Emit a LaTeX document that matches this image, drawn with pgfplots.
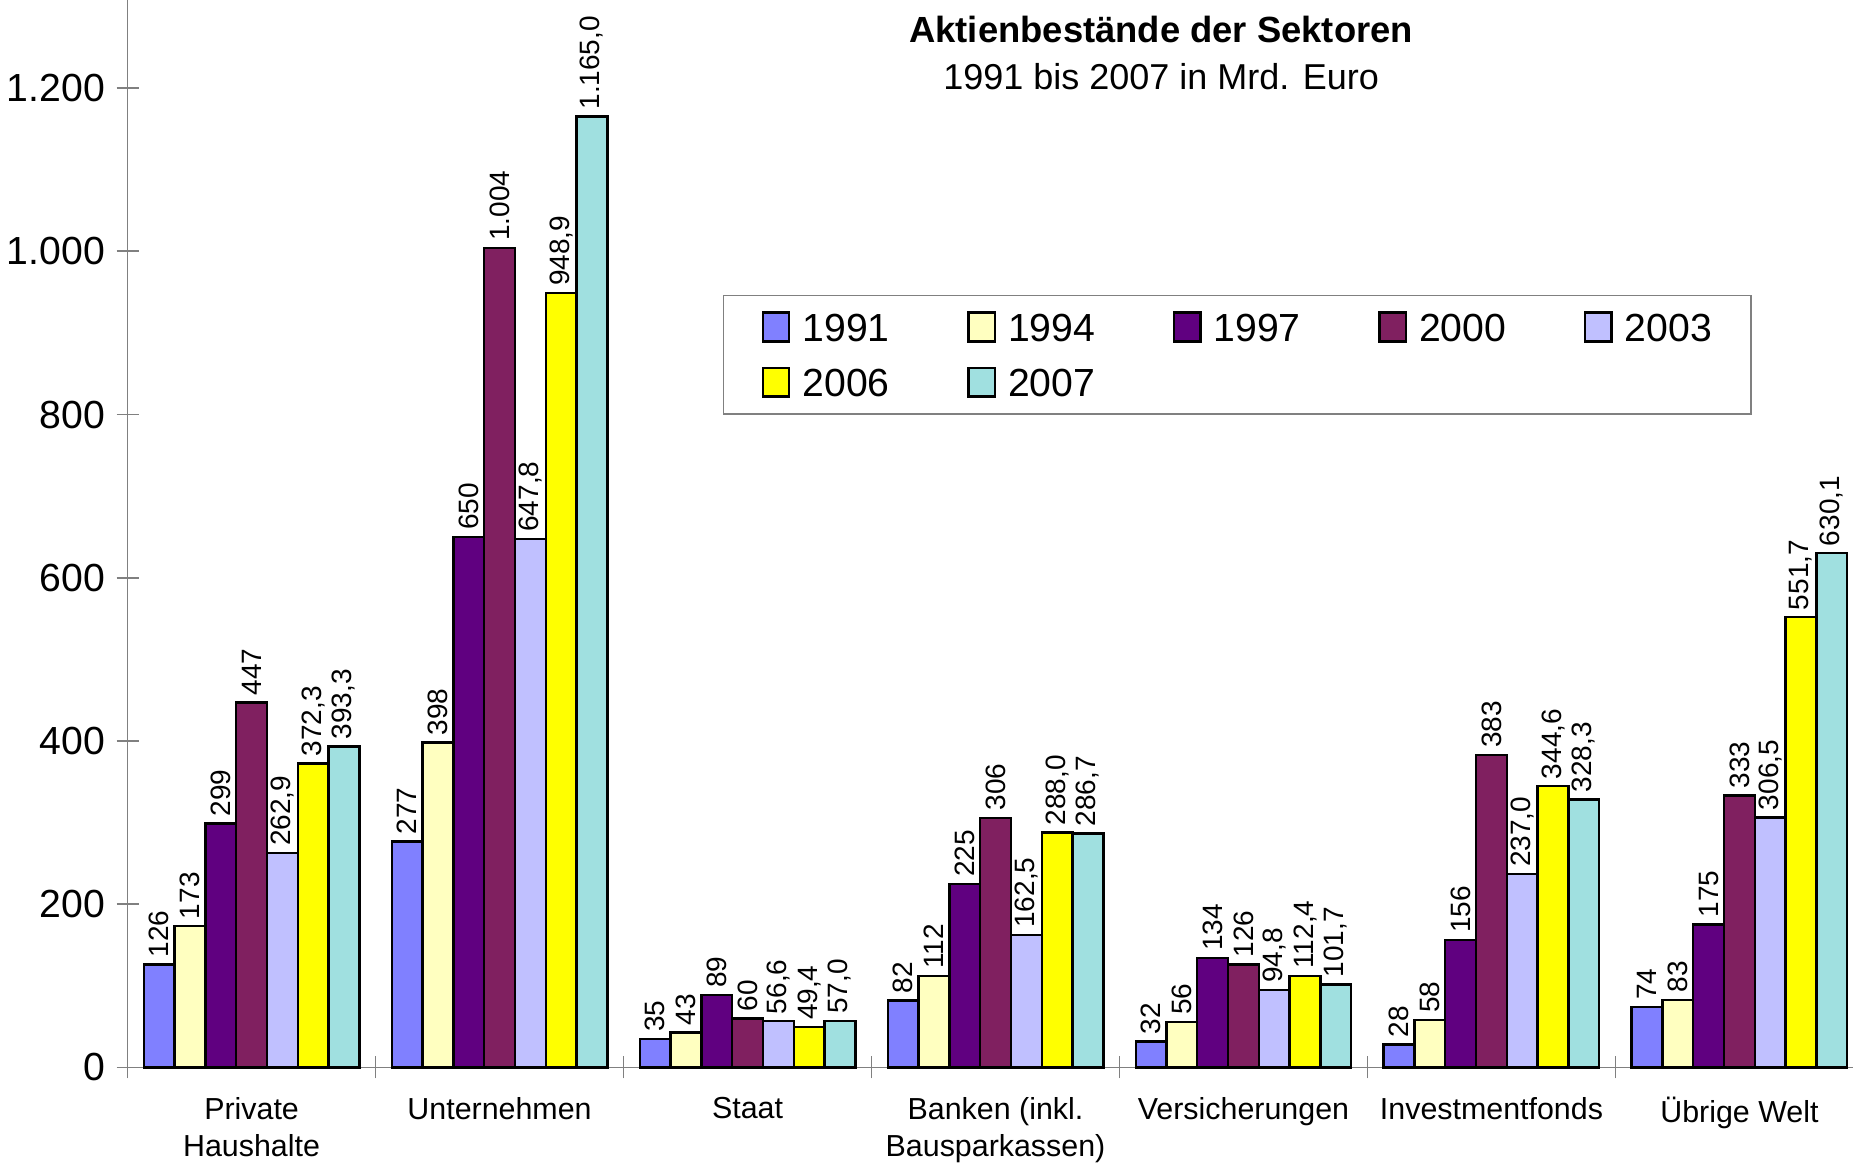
\documentclass[border=0pt]{standalone}
\usepackage{fontspec}
\setmainfont{Liberation Sans}
\usepackage{pgfplots}
\usepackage{pgfplotstable}
\pgfplotsset{compat=1.18}

\definecolor{c1991}{HTML}{8080FF}
\definecolor{c1994}{HTML}{FFFFC0}
\definecolor{c1997}{HTML}{600080}
\definecolor{c2000}{HTML}{802060}
\definecolor{c2003}{HTML}{C0C0FF}
\definecolor{c2006}{HTML}{FFFF00}
\definecolor{c2007}{HTML}{A0E0E0}
\definecolor{axisgray}{HTML}{808080}

% Aktienbestände in Mrd. Euro, value and printed label per year
\pgfplotstableread{
x v1991 l1991 v1994 l1994 v1997 l1997 v2000 l2000 v2003 l2003 v2006 l2006 v2007 l2007
0 126 126 173 173 299 299 447 447 262.9 262,9 372.3 372,3 393.3 393,3
1 277 277 398 398 650 650 1004 1.004 647.8 647,8 948.9 948,9 1165.0 1.165,0
2 35 35 43 43 89 89 60 60 56.6 56,6 49.4 49,4 57.0 57,0
3 82 82 112 112 225 225 306 306 162.5 162,5 288.0 288,0 286.7 286,7
4 32 32 56 56 134 134 126 126 94.8 94,8 112.4 112,4 101.7 101,7
5 28 28 58 58 156 156 383 383 237.0 237,0 344.6 344,6 328.3 328,3
6 74 74 83 83 175 175 333 333 306.5 306,5 551.7 551,7 630.1 630,1
}\data

\begin{document}
\begin{tikzpicture}
\begin{axis}[
  name=ax,
  scale only axis,
  width=431.4pt, height=266.9pt,
  xmin=-0.5, xmax=6.458,
  ymin=0, ymax=1308,
  ybar=0pt, bar width=7.7pt,
  clip=false,
  axis x line*=bottom, axis y line*=left,
  axis line style={draw=axisgray, line width=0.45pt},
  xtick={0,...,6},
  xticklabels={{Private\\Haushalte},Unternehmen,Staat,{Banken (inkl.\\Bausparkassen)},Versicherungen,Investmentfonds,Übrige Welt},
  minor xtick={-0.5,0.5,...,5.5},
  major x tick style={draw=none},
  minor x tick style={draw=axisgray, line width=0.45pt},
  minor tick length=5.5pt,
  xticklabel style={align=center, anchor=north, yshift=-1.2pt, font=\fontsize{7.6}{9.3}\selectfont},
  ytick={0,200,...,1200},
  major y tick style={draw=axisgray, line width=0.45pt},
  major tick length=5.5pt,
  tick align=center,
  yticklabel style={font=\fontsize{9.8}{10}\selectfont, xshift=0.6pt},
  /pgf/number format/assume math mode=true,
  /pgf/number format/1000 sep={.},
  point meta=explicit symbolic,
  nodes near coords,
  nodes near coords style={rotate=90, anchor=west, inner sep=1.5pt, font=\fontsize{7}{7}\selectfont, text=black},
  every axis plot/.append style={draw=black, line width=0.6pt},
  legend columns=5,
  legend style={
    at={(rel axis cs:0.345,0.724)}, anchor=north west,
    draw=axisgray, line width=0.4pt,
    inner xsep=9.5pt, inner ysep=4pt,
    font=\fontsize{9.8}{10}\selectfont,
    nodes={inner sep=0pt, text depth=0pt, text height=7.3pt},
    row sep=6pt,
    /tikz/every odd column/.append style={column sep=3pt},
    /tikz/every even column/.append style={column sep=19.2pt},
    cells={anchor=west},
  },
  legend image code/.code={\draw[#1, line width=0.6pt] (0pt,-3.6pt) rectangle (6.6pt,3.6pt);},
]
\addplot[fill=c1991] table[x=x, y=v1991, meta=l1991] {\data};
\addplot[fill=c1994] table[x=x, y=v1994, meta=l1994] {\data};
\addplot[fill=c1997] table[x=x, y=v1997, meta=l1997] {\data};
\addplot[fill=c2000] table[x=x, y=v2000, meta=l2000] {\data};
\addplot[fill=c2003] table[x=x, y=v2003, meta=l2003] {\data};
\addplot[fill=c2006] table[x=x, y=v2006, meta=l2006] {\data};
\addplot[fill=c2007] table[x=x, y=v2007, meta=l2007] {\data};
\legend{\makebox[22pt][l]{1991},\makebox[22pt][l]{1994},\makebox[22pt][l]{1997},\makebox[22pt][l]{2000},\makebox[22pt][l]{2003},\makebox[22pt][l]{2006},\makebox[22pt][l]{2007}}
\node[font=\bfseries\fontsize{9.1}{10}\selectfont] at (rel axis cs:0.599,0.972) {Aktienbestände der Sektoren};
\node[font=\fontsize{9}{10}\selectfont] at (rel axis cs:0.599,0.928) {1991 bis 2007 in Mrd. Euro};
\end{axis}
\pgfresetboundingbox
\path[use as bounding box] ([xshift=-31.9pt,yshift=-23.9pt]ax.south west) rectangle (ax.north east);
\end{tikzpicture}
\end{document}
